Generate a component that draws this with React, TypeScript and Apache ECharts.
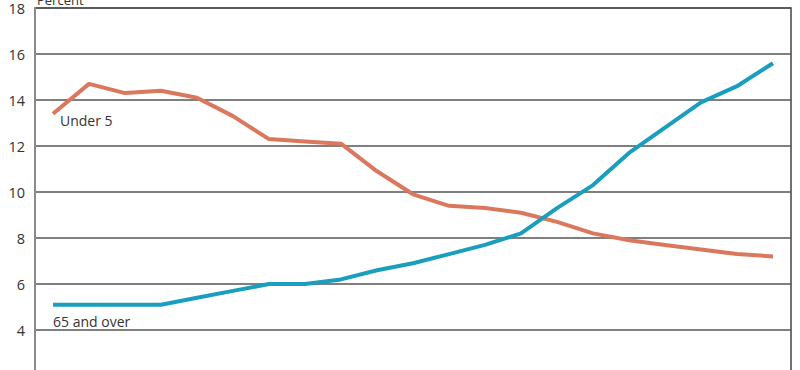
import React, { useEffect, useRef } from "react";
import * as echarts from "echarts";

const years: string[] = [
  "1950", "1955", "1960", "1965", "1970", "1975", "1980", "1985", "1990", "1995", "2000",
  "2005", "2010", "2015", "2020", "2025", "2030", "2035", "2040", "2045", "2050",
];
const under5: number[] = [
  13.4, 14.7, 14.3, 14.4, 14.1, 13.3, 12.3, 12.2, 12.1, 10.9, 9.9,
  9.4, 9.3, 9.1, 8.7, 8.2, 7.9, 7.7, 7.5, 7.3, 7.2,
];
const over65: number[] = [
  5.1, 5.1, 5.1, 5.1, 5.4, 5.7, 6.0, 6.0, 6.2, 6.6, 6.9,
  7.3, 7.7, 8.2, 9.3, 10.3, 11.7, 12.8, 13.9, 14.6, 15.6,
];
const yTicks = { min: 2, max: 18, interval: 2 };

export default function App() {
  const ref = useRef<HTMLDivElement>(null);
  useEffect(() => {
    if (!ref.current) return;
    const chart = echarts.init(ref.current, undefined, { renderer: "svg" });
    const font = "'Open Sans', 'Noto Sans', sans-serif";
    chart.setOption({
      animation: false,
      grid: {
        left: 35,
        right: 9,
        top: 8,
        bottom: 4,
        containLabel: false,
        show: true,
        borderColor: "#444",
        borderWidth: 1.5,
      },
      xAxis: {
        type: "category",
        data: years,
        boundaryGap: true,
        axisLine: { show: false },
        axisTick: { show: false },
        axisLabel: { show: false },
        splitLine: { show: false },
      },
      yAxis: {
        type: "value",
        min: yTicks.min,
        max: yTicks.max,
        interval: yTicks.interval,
        axisLine: { show: true, lineStyle: { color: "#8a8a8a", width: 2 } },
        axisTick: { show: false },
        axisLabel: {
          color: "#333",
          fontSize: 14.5,
          margin: 10,
          fontFamily: font,
          showMinLabel: false,
        },
        splitLine: { show: true, lineStyle: { color: "#555", width: 1.5 } },
      },
      graphic: [
        {
          type: "text",
          left: 37,
          top: -7,
          style: { text: "Percent", fill: "#333", font: `13px ${font}` },
        },
        {
          type: "text",
          left: 60,
          top: 113,
          style: { text: "Under 5", fill: "#333", font: `14px ${font}` },
        },
        {
          type: "text",
          left: 53,
          top: 314,
          style: { text: "65 and over", fill: "#333", font: `14px ${font}` },
        },
      ],
      series: [
        {
          name: "Under 5",
          type: "line",
          data: under5,
          showSymbol: false,
          symbol: "none",
          lineStyle: { color: "#DA775D", width: 4 },
          itemStyle: { color: "#DA775D" },
        },
        {
          name: "65 and over",
          type: "line",
          data: over65,
          showSymbol: false,
          symbol: "none",
          lineStyle: { color: "#1A9EBD", width: 4 },
          itemStyle: { color: "#1A9EBD" },
        },
      ],
    });
    return () => chart.dispose();
  }, []);
  return (
    <div
      style={{
        position: "fixed",
        left: 0,
        top: 0,
        width: 800,
        height: 370,
        overflow: "hidden",
        background: "#fff",
      }}
    >
      <div ref={ref} style={{ width: 800, height: 380 }} />
    </div>
  );
}
